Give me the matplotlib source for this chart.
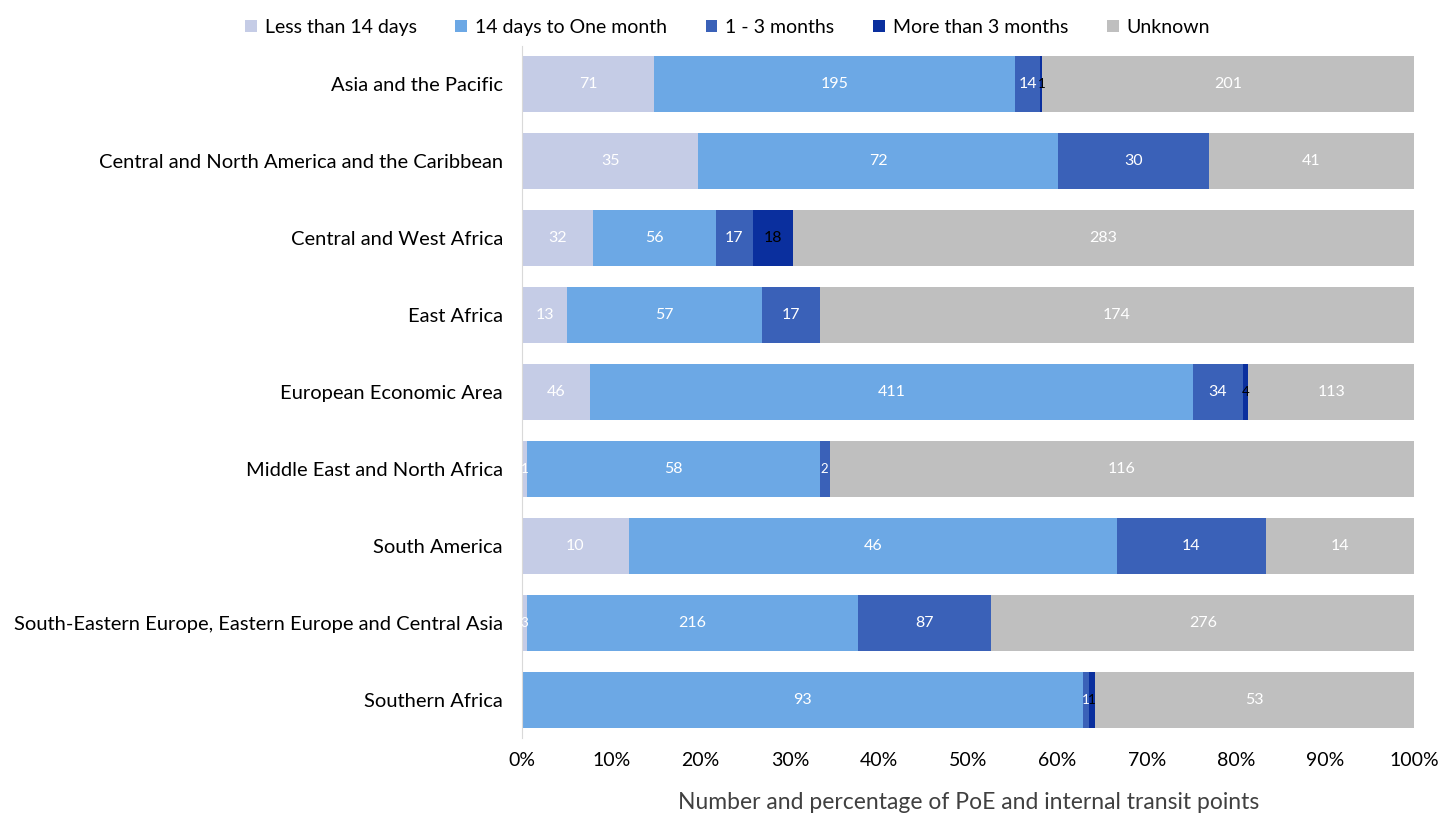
import matplotlib.pyplot as plt
import numpy as np

plt.rcParams['font.family'] = ['Lato', 'DejaVu Sans']

regions = ['Asia and the Pacific',
           'Central and North America and the Caribbean',
           'Central and West Africa',
           'East Africa',
           'European Economic Area',
           'Middle East and North Africa',
           'South America',
           'South-Eastern Europe, Eastern Europe and Central Asia',
           'Southern Africa']

series = ['Less than 14 days', '14 days to One month', '1 - 3 months',
          'More than 3 months', 'Unknown']

less_14 = [71, 35, 32, 13, 46, 1, 10, 3, 0]
to_month = [195, 72, 56, 57, 411, 58, 46, 216, 93]
one_three = [14, 30, 17, 17, 34, 2, 14, 87, 1]
more_three = [1, 0, 18, 0, 4, 0, 0, 0, 1]
unknown = [201, 41, 283, 174, 113, 116, 14, 276, 53]

colors = ['#C5CCE6', '#6CA8E5', '#3A61B8', '#0A2F9E', '#BFBFBF']
text_colors = ['white', 'white', 'white', 'black', 'white']

data = np.array([less_14, to_month, one_three, more_three, unknown], dtype=float)
totals = data.sum(axis=0)
pct = data / totals * 100

fig = plt.figure(figsize=(14.55, 8.16), dpi=100)
ax = fig.add_axes([0.359, 0.095, 0.613, 0.849])

y = np.arange(len(regions))
left = np.zeros(len(regions))
for i, name in enumerate(series):
    ax.barh(y, pct[i], left=left, height=0.73, color=colors[i], label=name)
    for j in range(len(regions)):
        if data[i, j] > 0:
            # tiny segments get a narrower label so neighbours don't collide
            fs = 9.5 if pct[i, j] < 1.5 else 11.5
            ax.text(left[j] + pct[i, j] / 2, y[j], f'{int(data[i, j])}',
                    ha='center', va='center', fontsize=fs, color=text_colors[i])
    left += pct[i]

ax.set_xlim(0, 100)
ax.set_ylim(len(regions) - 0.5, -0.5)
ax.set_yticks(y)
ax.set_yticklabels(regions, fontsize=14.5)
ax.set_xticks(np.arange(0, 101, 10))
ax.set_xticklabels([f'{v}%' for v in range(0, 101, 10)], fontsize=14)
ax.tick_params(length=0, pad=10)
ax.tick_params(axis='y', pad=14)
for s in ['top', 'right', 'bottom']:
    ax.spines[s].set_visible(False)
ax.spines['left'].set_color('#D9D9D9')
ax.set_xlabel('Number and percentage of PoE and internal transit points',
              fontsize=16.5, color='#404040', labelpad=16)

fig.legend(loc='upper center', bbox_to_anchor=(0.5, 0.998), ncol=5, frameon=False,
           fontsize=14, handlelength=0.6, handleheight=0.6, handletextpad=0.4,
           columnspacing=2.0)

fig.savefig('out.png', dpi=100)
